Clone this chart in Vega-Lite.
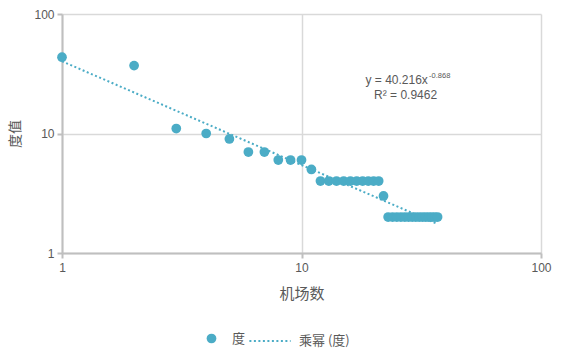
{
  "$schema": "https://vega.github.io/schema/vega-lite/v6.json",
  "autosize": "none",
  "width": 479,
  "height": 239,
  "padding": {"left": 62, "top": 14, "right": 39, "bottom": 101},
  "background": "white",
  "config": {
    "view": {"stroke": null},
    "font": "Noto Sans CJK SC",
    "axis": {
      "labelFont": "Liberation Sans",
      "labelFontSize": 12,
      "labelColor": "#595959",
      "labelFlush": false,
      "titleFont": "Noto Sans CJK SC",
      "titleFontSize": 15,
      "titleFontWeight": "normal",
      "titleColor": "#595959",
      "gridColor": "#d9d9d9",
      "gridWidth": 1.5,
      "domainColor": "#bfbfbf",
      "domainWidth": 2,
      "tickColor": "#bfbfbf",
      "tickWidth": 2,
      "tickSize": 5
    }
  },
  "datasets": {
    "pts": [
      {"x": 1, "y": 43.5, "s": "度"},
      {"x": 2, "y": 37, "s": "度"},
      {"x": 3, "y": 11, "s": "度"},
      {"x": 4, "y": 10, "s": "度"},
      {"x": 5, "y": 9, "s": "度"},
      {"x": 6, "y": 7, "s": "度"},
      {"x": 7, "y": 7, "s": "度"},
      {"x": 8, "y": 6, "s": "度"},
      {"x": 9, "y": 6, "s": "度"},
      {"x": 10, "y": 6, "s": "度"},
      {"x": 11, "y": 5, "s": "度"},
      {"x": 12, "y": 4, "s": "度"},
      {"x": 13, "y": 4, "s": "度"},
      {"x": 14, "y": 4, "s": "度"},
      {"x": 15, "y": 4, "s": "度"},
      {"x": 16, "y": 4, "s": "度"},
      {"x": 17, "y": 4, "s": "度"},
      {"x": 18, "y": 4, "s": "度"},
      {"x": 19, "y": 4, "s": "度"},
      {"x": 20, "y": 4, "s": "度"},
      {"x": 21, "y": 4, "s": "度"},
      {"x": 22, "y": 3, "s": "度"},
      {"x": 23, "y": 2, "s": "度"},
      {"x": 24, "y": 2, "s": "度"},
      {"x": 25, "y": 2, "s": "度"},
      {"x": 26, "y": 2, "s": "度"},
      {"x": 27, "y": 2, "s": "度"},
      {"x": 28, "y": 2, "s": "度"},
      {"x": 29, "y": 2, "s": "度"},
      {"x": 30, "y": 2, "s": "度"},
      {"x": 31, "y": 2, "s": "度"},
      {"x": 32, "y": 2, "s": "度"},
      {"x": 33, "y": 2, "s": "度"},
      {"x": 34, "y": 2, "s": "度"},
      {"x": 35, "y": 2, "s": "度"},
      {"x": 36, "y": 2, "s": "度"},
      {"x": 37, "y": 2, "s": "度"}
    ],
    "trend": [
      {"x": 1, "y": 40.216, "s": "乘幂 (度)"},
      {"x": 37, "y": 1.7506, "s": "乘幂 (度)"}
    ],
    "eq": [
      {"x": 33.7, "y": 28.3, "t": "y = 40.216x"}
    ],
    "sup": [
      {"x": 34.1, "y": 30.2, "t": "-0.868"}
    ],
    "r2": [
      {"x": 27.2, "y": 21.1, "t": "R² = 0.9462"}
    ]
  },
  "encoding": {
    "x": {
      "field": "x", "type": "quantitative",
      "scale": {"type": "log", "domain": [1, 100], "nice": false},
      "axis": {"values": [1, 10, 100], "title": "机场数", "titleY": 33, "labelPadding": 4, "format": "d"}
    },
    "y": {
      "field": "y", "type": "quantitative",
      "scale": {"type": "log", "domain": [1, 100], "nice": false},
      "axis": {"values": [1, 10, 100], "title": "度值", "titleX": -40, "titleFontSize": 14, "labelPadding": 3, "format": "d"}
    }
  },
  "layer": [
    {
      "data": {"name": "trend"},
      "mark": {"type": "line", "color": "#4bacc6", "strokeWidth": 2, "strokeCap": "butt"},
      "encoding": {
        "strokeDash": {
          "field": "s", "type": "nominal",
          "scale": {"range": [[2, 2.5]]},
          "legend": {
            "title": null, "orient": "none", "legendX": 186, "legendY": 305,
            "symbolType": "stroke", "symbolStrokeColor": "#4bacc6", "symbolStrokeWidth": 2,
            "symbolSize": 1700, "labelFontSize": 13, "labelColor": "#595959", "labelOffset": 7,
            "labelFont": "Noto Sans CJK SC"
          }
        }
      }
    },
    {
      "data": {"name": "pts"},
      "mark": {"type": "circle", "size": 95, "opacity": 1},
      "encoding": {
        "color": {
          "field": "s", "type": "nominal",
          "scale": {"range": ["#4bacc6"]},
          "legend": {
            "title": null, "orient": "none", "legendX": 143, "legendY": 318,
            "symbolType": "circle", "symbolSize": 95, "symbolOpacity": 1,
            "labelFontSize": 13, "labelColor": "#595959", "labelOffset": 14,
            "labelFont": "Noto Sans CJK SC"
          }
        }
      }
    },
    {
      "data": {"name": "eq"},
      "mark": {"type": "text", "align": "right", "baseline": "middle", "fontSize": 12, "color": "#595959", "font": "Liberation Sans"},
      "encoding": {"text": {"field": "t"}}
    },
    {
      "data": {"name": "sup"},
      "mark": {"type": "text", "align": "left", "baseline": "middle", "fontSize": 7.5, "color": "#595959", "font": "Liberation Sans"},
      "encoding": {"text": {"field": "t"}}
    },
    {
      "data": {"name": "r2"},
      "mark": {"type": "text", "align": "center", "baseline": "middle", "fontSize": 12, "color": "#595959", "font": "Liberation Sans"},
      "encoding": {"text": {"field": "t"}}
    }
  ]
}
